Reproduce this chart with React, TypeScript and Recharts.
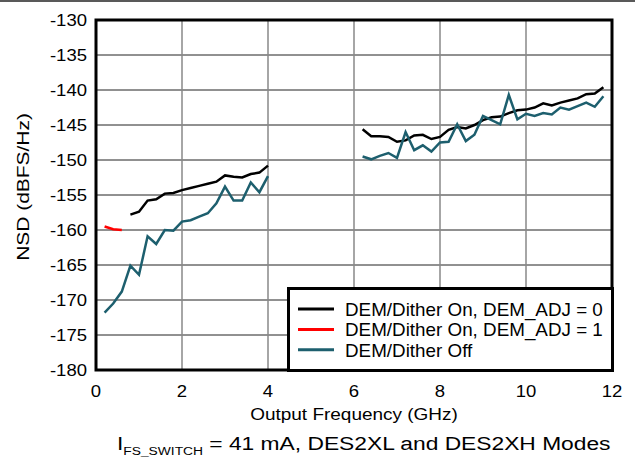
import React from 'react';
import { LineChart, Line, XAxis, YAxis, CartesianGrid, ReferenceArea, Legend } from 'recharts';

// Output frequency (GHz) for the two measured bands
const freqLow = [0.2, 0.4, 0.6, 0.8, 1.0, 1.2, 1.4, 1.6, 1.8, 2.0, 2.2, 2.4, 2.6, 2.8, 3.0, 3.2, 3.4, 3.6, 3.8, 4.0];
const freqHigh = [6.2, 6.4, 6.6, 6.8, 7.0, 7.2, 7.4, 7.6, 7.8, 8.0, 8.2, 8.4, 8.6, 8.8, 9.0, 9.2, 9.4, 9.6, 9.8, 10.0, 10.2, 10.4, 10.6, 10.8, 11.0, 11.2, 11.4, 11.6, 11.8];
const gapFreq = 5; // break between bands (no measurement)

// NSD (dBFS/Hz)
const ditherOnAdj0Low = [null, null, null, -157.8, -157.4, -155.8, -155.6, -154.8, -154.7, -154.3, -154.0, -153.7, -153.4, -153.1, -152.2, -152.4, -152.5, -152.0, -151.8, -150.8];
const ditherOnAdj0High = [-145.6, -146.6, -146.6, -146.7, -147.4, -147.2, -146.5, -146.4, -147.0, -146.7, -145.7, -145.3, -145.5, -145.0, -144.3, -143.9, -143.8, -143.3, -142.9, -142.8, -142.5, -141.9, -142.2, -141.8, -141.5, -141.2, -140.6, -140.5, -139.6];
const ditherOnAdj1Low = [-159.5, -159.9, -160.0, null, null, null, null, null, null, null, null, null, null, null, null, null, null, null, null, null];
const ditherOffLow = [-171.8, -170.5, -168.8, -165.1, -166.4, -160.9, -162.0, -160.0, -160.1, -158.8, -158.6, -158.1, -157.6, -156.2, -153.8, -155.8, -155.8, -153.2, -154.6, -152.3];
const ditherOffHigh = [-149.5, -149.9, -149.4, -149.0, -149.7, -146.0, -148.6, -147.9, -148.8, -147.5, -147.4, -144.9, -147.3, -146.4, -143.7, -144.3, -144.9, -140.7, -144.2, -143.4, -143.7, -143.3, -143.5, -142.5, -142.8, -142.3, -141.8, -142.4, -140.9];

const xTicks = [0, 2, 4, 6, 8, 10, 12];
const yTicks = [-180, -175, -170, -165, -160, -155, -150, -145, -140, -135, -130];

const seriesNames = ['DEM/Dither On, DEM_ADJ = 0', 'DEM/Dither On, DEM_ADJ = 1', 'DEM/Dither Off'];
const seriesColors = ['#000000', '#ff0000', '#1d5f6e'];

const data = [
  ...freqLow.map((f, i) => ({ freq: f, adj0: ditherOnAdj0Low[i], adj1: ditherOnAdj1Low[i], off: ditherOffLow[i] })),
  { freq: gapFreq, adj0: null, adj1: null, off: null },
  ...freqHigh.map((f, i) => ({ freq: f, adj0: ditherOnAdj0High[i], adj1: null, off: ditherOffHigh[i] })),
];

const FONT = '"Liberation Sans", Arial, Helvetica, sans-serif';

const YTick = (props: any) => {
  const { x, y, payload } = props;
  return (
    <text transform={`translate(${x - 9},${y + 6}) scale(1.09,1)`} textAnchor="end" fontSize={17} fontFamily={FONT} fill="#000">
      {payload.value}
    </text>
  );
};

const XTick = (props: any) => {
  const { x, y, payload } = props;
  return (
    <text transform={`translate(${x},${y + 27}) scale(1.09,1)`} textAnchor="middle" fontSize={17} fontFamily={FONT} fill="#000">
      {payload.value}
    </text>
  );
};

const renderLegend = (props: any) => {
  const raw = props.payload || [];
  const payload = [...raw].sort((a: any, b: any) => seriesNames.indexOf(a.value) - seriesNames.indexOf(b.value));
  return (
    <div style={{ position: 'relative', width: 327, height: 85, boxSizing: 'border-box', border: '3px solid #000', background: '#fff' }}>
      <svg width={327} height={85} style={{ position: 'absolute', left: -3, top: -3, overflow: 'visible' }}>
        {payload.map((p: any, i: number) => (
          <g key={i}>
            <line x1={11} x2={47} y1={22 + i * 20.4} y2={22 + i * 20.4} stroke={p.color} strokeWidth={3} />
            <text transform={`translate(58,${29 + i * 20.4}) scale(1.064,1)`} fontSize={17.7} fontFamily={FONT} fill="#000">
              {p.value}
            </text>
          </g>
        ))}
      </svg>
    </div>
  );
};

export default function App() {
  return (
    <div style={{ position: 'absolute', left: 0, top: 0, width: 635, height: 461, background: '#fff' }}>
      <LineChart width={635} height={461} data={data} margin={{ top: 20, right: 23, left: 36, bottom: 61 }}>
        <CartesianGrid vertical={false} stroke="#222" strokeWidth={1} />
        <CartesianGrid horizontal={false} stroke="#888" strokeWidth={1.5} />
        <XAxis
          type="number"
          dataKey="freq"
          domain={[0, 12]}
          ticks={xTicks}
          height={30}
          axisLine={false}
          tickLine={false}
          tickSize={0}
          tickMargin={0}
          tick={<XTick />}
          interval={0}
        />
        <YAxis
          type="number"
          domain={[-180, -130]}
          ticks={yTicks}
          width={60}
          axisLine={false}
          tickLine={false}
          tickSize={0}
          tickMargin={0}
          tick={<YTick />}
          interval={0}
        />
        <Line type="linear" dataKey="adj0" name={seriesNames[0]} stroke={seriesColors[0]} strokeWidth={2.5} dot={false} isAnimationActive={false} connectNulls={false} />
        <Line type="linear" dataKey="adj1" name={seriesNames[1]} stroke={seriesColors[1]} strokeWidth={2.5} dot={false} isAnimationActive={false} connectNulls={false} />
        <Line type="linear" dataKey="off" name={seriesNames[2]} stroke={seriesColors[2]} strokeWidth={2.5} dot={false} isAnimationActive={false} connectNulls={false} />
        <ReferenceArea x1={0} x2={12} y1={-180} y2={-130} fill="none" stroke="#000" strokeWidth={3} ifOverflow="visible" />
        <Legend
          layout="vertical"
          align="center"
          verticalAlign="middle"
          content={renderLegend}
          wrapperStyle={{ position: 'absolute', left: 287, top: 287, width: 327, height: 85, bottom: 'auto', right: 'auto' }}
        />
      </LineChart>
      <svg width={635} height={461} style={{ position: 'absolute', left: 0, top: 0, pointerEvents: 'none' }}>
        <line x1={0} x2={635} y1={1} y2={1} stroke="#222" strokeWidth={1.5} />
        <text transform="translate(28.5,187) rotate(-90) scale(1.31,1)" textAnchor="middle" fontSize={16} fontFamily={FONT} fill="#000">
          NSD (dBFS/Hz)
        </text>
        <text transform="translate(354,420) scale(1.15,1)" textAnchor="middle" fontSize={16.5} fontFamily={FONT} fill="#000">
          Output Frequency (GHz)
        </text>
        <text transform="translate(117,450) scale(1.2,1)" fontSize={19} fontFamily={FONT} fill="#000">
          <tspan>I</tspan>
          <tspan fontSize={11.5} dy={5}>FS_SWITCH</tspan>
          <tspan dy={-5}> = 41 mA, DES2XL and DES2XH Modes</tspan>
        </text>
      </svg>
    </div>
  );
}
